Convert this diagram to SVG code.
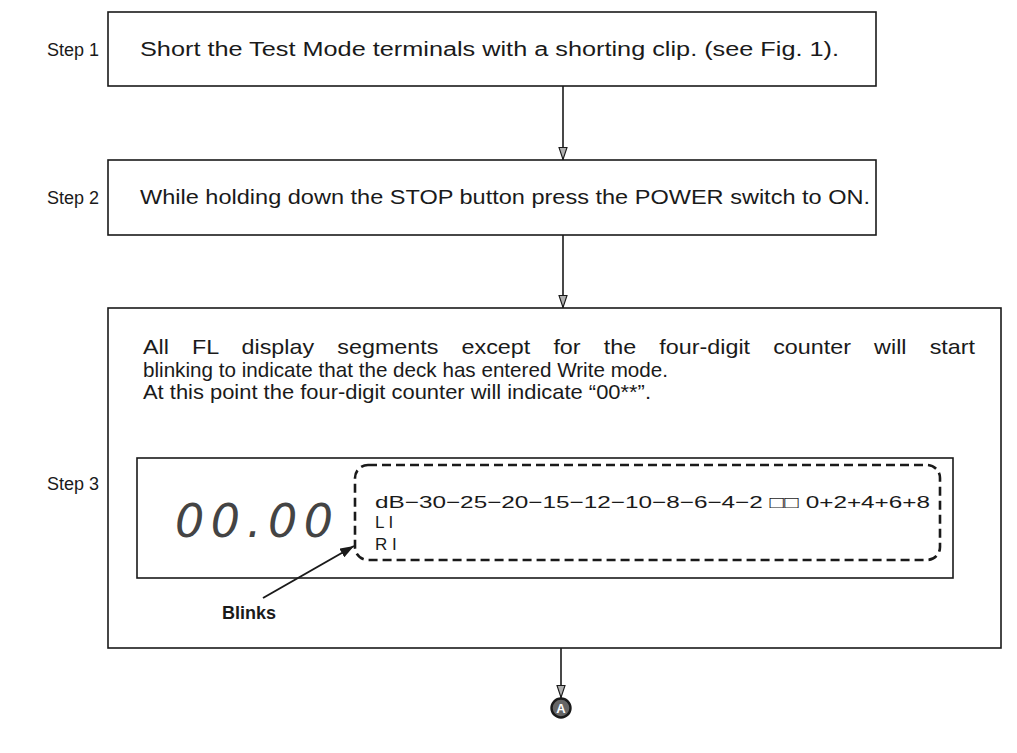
<svg xmlns="http://www.w3.org/2000/svg" width="1017" height="753" viewBox="0 0 1017 753">
<style>
.box{fill:none;stroke:#1a1a1a;stroke-width:1.6}
.lbl{font-family:"Liberation Sans",Arial,sans-serif;font-size:18px;fill:#1a1a1a}
.txt{font-family:"Liberation Sans",Arial,sans-serif;font-size:20px;fill:#1a1a1a}
.txt3{font-family:"Liberation Sans",Arial,sans-serif;font-size:21px;fill:#1a1a1a}
.meter{font-family:"Liberation Sans",Arial,sans-serif;font-size:17px;fill:#1a1a1a}
.conn{stroke:#1a1a1a;stroke-width:1.6;fill:none}
</style>
<defs>
<marker id="ah" viewBox="0 0 13 10" refX="13" refY="5" markerWidth="13" markerHeight="10" markerUnits="userSpaceOnUse" orient="auto">
<path d="M0.5,1 L12.5,5 L0.5,9 Z" fill="#b0b0b0" stroke="#1a1a1a" stroke-width="1.1"/>
</marker>
<marker id="ahb" viewBox="0 0 14 10" refX="14" refY="5" markerWidth="14" markerHeight="10" markerUnits="userSpaceOnUse" orient="auto">
<path d="M0,0 L14,5 L0,10 Z" fill="#1a1a1a"/>
</marker>
</defs>

<g id="step1">
<text class="lbl" x="47" y="56">Step 1</text>
<rect class="box" x="108" y="12" width="768" height="74"/>
<text class="txt" x="140" y="56" textLength="699" lengthAdjust="spacingAndGlyphs">Short the Test Mode terminals with a shorting clip. (see Fig. 1).</text>
</g>

<g id="step2">
<text class="lbl" x="47" y="204">Step 2</text>
<rect class="box" x="108" y="160" width="768" height="75"/>
<text class="txt" x="140" y="204" textLength="730" lengthAdjust="spacingAndGlyphs">While holding down the STOP button press the POWER switch to ON.</text>
</g>

<g id="step3">
<text class="lbl" x="47" y="490">Step 3</text>
<rect class="box" x="108" y="308" width="893" height="340"/>
<text class="txt3" x="143" y="354" word-spacing="15" textLength="832" lengthAdjust="spacingAndGlyphs">All FL display segments except for the four-digit counter will start</text>
<text class="txt3" x="143" y="377" textLength="525" lengthAdjust="spacingAndGlyphs">blinking to indicate that the deck has entered Write mode.</text>
<text class="txt3" x="143" y="399" textLength="508" lengthAdjust="spacingAndGlyphs">At this point the four-digit counter will indicate “00**”.</text>
</g>

<g id="display">
<rect class="box" x="137" y="458" width="816" height="120"/>
<text x="175" y="537" textLength="158" lengthAdjust="spacing" style="font-family:'DejaVu Sans',sans-serif;font-size:46px;font-weight:200;font-style:italic;fill:#444">00.00</text>
<rect x="355" y="465" width="585" height="95" rx="13" ry="13" fill="none" stroke="#1a1a1a" stroke-width="2.6" stroke-dasharray="9 5"/>
<text class="meter" x="375" y="508" textLength="555" lengthAdjust="spacingAndGlyphs">dB−30−25−20−15−12−10−8−6−4−2 □□ 0+2+4+6+8</text>
<text class="meter" x="375" y="528">L I</text>
<text class="meter" x="375" y="550">R I</text>
</g>

<g id="blinks">
<text x="222" y="619" style="font-family:'Liberation Sans',Arial,sans-serif;font-size:18px;font-weight:bold;fill:#1a1a1a">Blinks</text>
</g>

<g id="endA">
<circle cx="561" cy="708" r="9.5" fill="#666" stroke="#1a1a1a" stroke-width="2.4"/>
<text x="561" y="713" text-anchor="middle" style="font-family:'Liberation Sans',Arial,sans-serif;font-size:13px;font-weight:bold;fill:#fff">A</text>
</g>

<g id="connectors">
<line class="conn" x1="563" y1="86" x2="563" y2="160" marker-end="url(#ah)"/>
<line class="conn" x1="563" y1="235" x2="563" y2="308" marker-end="url(#ah)"/>
<line class="conn" x1="561" y1="648" x2="561" y2="698" marker-end="url(#ah)"/>
<line x1="263" y1="598" x2="354" y2="546" stroke="#1a1a1a" stroke-width="2" marker-end="url(#ahb)"/>
</g>
</svg>
